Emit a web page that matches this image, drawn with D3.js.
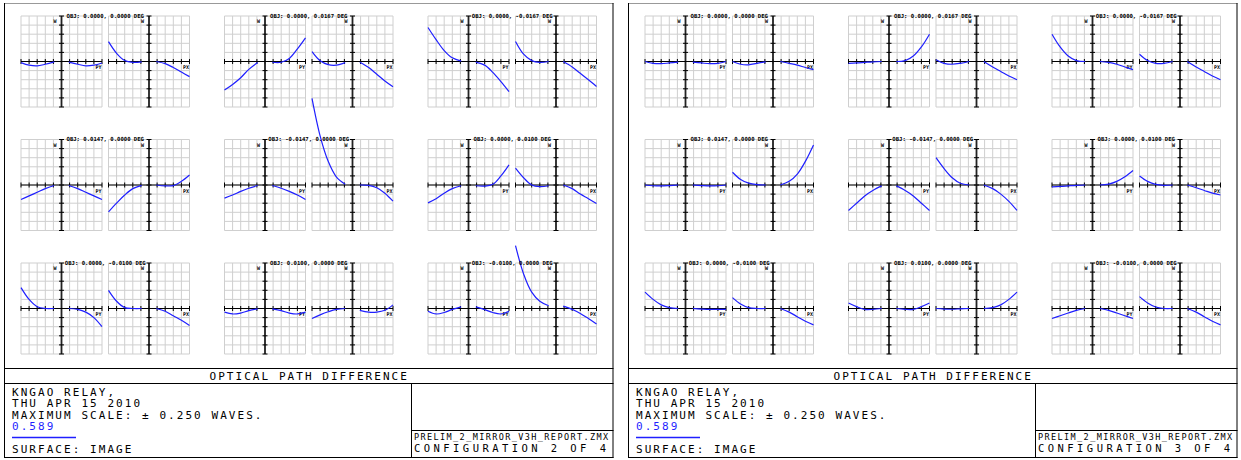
<!DOCTYPE html>
<html>
<head>
<meta charset="utf-8">
<script src="https://cdn.jsdelivr.net/npm/d3@7"></script>
<style>
  body { margin: 0; background: #fff; }
  svg { display: block; }
</style>
</head>
<body>
<script>
// configurations shown side by side
const configLabels = ["CONFIGURATION 2 OF 4", "CONFIGURATION 3 OF 4"];
const fieldLabels = [
    "OBJ: 0.0000, 0.0000 DEG", "OBJ: 0.0000, 0.0167 DEG", "OBJ: 0.0000, -0.0167 DEG",
    "OBJ: 0.0147, 0.0000 DEG", "OBJ: -0.0147, 0.0000 DEG", "OBJ: 0.0000, 0.0100 DEG",
    "OBJ: 0.0000, -0.0100 DEG", "OBJ: 0.0100, 0.0000 DEG", "OBJ: -0.0100, 0.0000 DEG"
];
const infoLines = ["KNGAO RELAY,", "THU APR 15 2010", "MAXIMUM SCALE: \u00b1 0.250 WAVES."];
const wavelength = "0.589";
const surfaceLabel = "SURFACE: IMAGE";
const fileName = "PRELIM_2_MIRROR_V3H_REPORT.ZMX";
const maxScale = 0.25;

// pupil samples (central obscuration leaves a gap around 0)
const pupilNeg = [-1, -0.8, -0.6, -0.4, -0.18];
const pupilPos = [0.18, 0.4, 0.6, 0.8, 1];

// OPD in waves, 5 values on the negative side then 5 on the positive side
const cfg2PY = [
    [-0.006, -0.02, -0.024, -0.015, -0.002, -0.003, -0.015, -0.024, -0.02, -0.008],
    [-0.157, -0.126, -0.089, -0.043, -0.005, -0.004, -0.004, 0.017, 0.069, 0.13],
    [0.187, 0.12, 0.06, 0.02, 0.002, -0.003, -0.02, -0.06, -0.11, -0.165],
    [-0.08, -0.06, -0.04, -0.02, -0.003, -0.003, -0.02, -0.04, -0.06, -0.08],
    [-0.072, -0.055, -0.035, -0.018, -0.003, -0.003, -0.018, -0.035, -0.055, -0.08],
    [-0.098, -0.075, -0.045, -0.02, -0.004, -0.004, -0.006, 0.004, 0.05, 0.111],
    [0.115, 0.05, 0.01, 0, 0, 0, -0.005, -0.02, -0.05, -0.1],
    [-0.02, -0.03, -0.025, -0.012, -0.002, -0.002, -0.012, -0.025, -0.03, -0.02],
    [-0.015, -0.03, -0.022, -0.005, 0.009, 0.009, -0.006, -0.022, -0.03, -0.015]
];
const cfg2PX = [
    [0.109, 0.045, 0.005, -0.005, -0.002, 0, -0.012, -0.033, -0.058, -0.083],
    [0.054, 0.004, -0.017, -0.02, -0.006, -0.004, -0.033, -0.07, -0.107, -0.139],
    [0.11, 0.04, 0.005, -0.005, 0, 0, -0.03, -0.065, -0.1, -0.137],
    [-0.148, -0.1, -0.055, -0.02, -0.002, 0, -0.005, -0.003, 0.02, 0.055],
    [0.476, 0.27, 0.13, 0.045, 0.004, 0, -0.002, -0.015, -0.045, -0.089],
    [0.093, 0.04, 0, -0.009, -0.004, 0, -0.02, -0.05, -0.075, -0.102],
    [0.1, 0.04, 0.005, 0, 0, 0, -0.015, -0.04, -0.065, -0.093],
    [-0.055, -0.035, -0.018, -0.005, 0, -0.01, -0.02, -0.02, -0.01, 0.02],
    [0.345, 0.19, 0.09, 0.04, 0.015, 0.013, -0.005, -0.027, -0.055, -0.085]
];
const cfg3PY = [
    [0, -0.01, -0.012, -0.008, -0.003, -0.003, -0.008, -0.012, -0.01, 0],
    [-0.01, -0.008, -0.005, -0.002, 0, 0, 0.005, 0.03, 0.08, 0.15],
    [0.15, 0.08, 0.03, 0.005, 0, 0, -0.005, -0.015, -0.03, -0.045],
    [0, -0.004, -0.005, -0.003, 0, 0, -0.003, -0.005, -0.004, 0],
    [-0.14, -0.1, -0.06, -0.03, -0.005, -0.005, -0.03, -0.06, -0.1, -0.14],
    [-0.01, -0.008, -0.005, -0.002, 0, 0, 0.005, 0.02, 0.045, 0.08],
    [0.09, 0.05, 0.02, 0.005, 0, 0, -0.003, -0.005, -0.005, -0.005],
    [0.03, 0.01, -0.005, -0.005, 0, 0, -0.005, -0.005, 0.01, 0.03],
    [-0.055, -0.04, -0.025, -0.01, 0, 0, -0.01, -0.025, -0.04, -0.055]
];
const cfg3PX = [
    [0, -0.015, -0.018, -0.01, -0.002, 0, -0.01, -0.02, -0.033, -0.045],
    [0.01, -0.01, -0.015, -0.01, 0, 0, -0.03, -0.055, -0.08, -0.1],
    [0.04, 0.005, -0.01, -0.01, 0, 0, -0.03, -0.055, -0.08, -0.1],
    [0.07, 0.03, 0.01, 0.002, 0, 0, 0.02, 0.06, 0.13, 0.22],
    [0.15, 0.09, 0.04, 0.01, 0, 0, -0.02, -0.05, -0.09, -0.14],
    [0.05, 0.02, 0.003, -0.002, 0, 0, -0.015, -0.03, -0.045, -0.055],
    [0.06, 0.025, 0.005, 0, 0, 0, -0.02, -0.045, -0.07, -0.09],
    [0, -0.003, -0.004, -0.002, 0, 0, 0.005, 0.02, 0.05, 0.09],
    [0.065, 0.03, 0.008, 0, 0, 0, -0.02, -0.045, -0.07, -0.09]
];
const fanPY = [cfg2PY, cfg3PY];
const fanPX = [cfg2PX, cfg3PX];

const W = 1241, H = 460;
const panelLeft = [4, 628];
const panelW = 609.5;
const plotW = 81, plotH = 91;
const colX = [17, 220.5, 424];
const rowY = [16, 139.5, 263];
const pairStep = 87.5;
const mono = "'DejaVu Sans Mono', 'Liberation Mono', monospace";
const blue = "#1f1fff";

const svg = d3.select("body").append("svg")
    .attr("width", W)
    .attr("height", H);

svg.append("rect").attr("width", W).attr("height", H).attr("fill", "#fff");

function drawFan(g, x0, y0, values, axisName) {
    const x = d3.scaleLinear().domain([-1, 1]).range([x0, x0 + plotW]);
    const y = d3.scaleLinear().domain([-maxScale, maxScale]).range([y0 + plotH, y0]);
    const xt = d3.range(-1, 1.0001, 0.2);
    const yt = d3.range(-maxScale, maxScale + 0.0001, 0.05);

    // grid
    g.selectAll(null).data(xt).enter().append("line")
        .attr("x1", d => x(d)).attr("x2", d => x(d))
        .attr("y1", y0).attr("y2", y0 + plotH)
        .attr("stroke", "#cfcfcf").attr("stroke-width", 1);
    g.selectAll(null).data(yt).enter().append("line")
        .attr("x1", x0).attr("x2", x0 + plotW)
        .attr("y1", d => y(d)).attr("y2", d => y(d))
        .attr("stroke", "#cfcfcf").attr("stroke-width", 1);

    // axes with ticks
    g.append("line")
        .attr("x1", x0).attr("x2", x0 + plotW)
        .attr("y1", y(0)).attr("y2", y(0))
        .attr("stroke", "#000").attr("stroke-width", 1);
    g.selectAll(null).data(xt).enter().append("line")
        .attr("x1", d => x(d)).attr("x2", d => x(d))
        .attr("y1", y(0) - 2.5).attr("y2", y(0) + 2.5)
        .attr("stroke", "#000").attr("stroke-width", 1);
    g.append("line")
        .attr("x1", x(0)).attr("x2", x(0))
        .attr("y1", y0).attr("y2", y0 + plotH)
        .attr("stroke", "#222").attr("stroke-width", 1.8);
    g.selectAll(null).data(yt).enter().append("line")
        .attr("x1", x(0) - 2.5).attr("x2", x(0) + 2.5)
        .attr("y1", d => y(d)).attr("y2", d => y(d))
        .attr("stroke", "#000").attr("stroke-width", 1);

    g.append("text")
        .attr("x", x(0) - 6.5).attr("y", y0 + 7)
        .attr("text-anchor", "middle")
        .attr("font-family", mono).attr("font-size", 5).attr("font-weight", "bold")
        .text("W");
    g.append("text")
        .attr("x", x0 + plotW - 0.5).attr("y", y(0) + 7.5)
        .attr("text-anchor", "end")
        .attr("font-family", mono).attr("font-size", 5).attr("font-weight", "bold")
        .text(axisName);

    const line = d3.line()
        .x(d => x(d[0]))
        .y(d => y(d[1]))
        .curve(d3.curveCatmullRom.alpha(0.5));
    const neg = pupilNeg.map((p, i) => [p, values[i]]);
    const pos = pupilPos.map((p, i) => [p, values[i + 5]]);
    [neg, pos].forEach(seg => {
        g.append("path")
            .attr("d", line(seg))
            .attr("fill", "none")
            .attr("stroke", blue)
            .attr("stroke-width", 1.2);
    });
}

panelLeft.forEach((px, p) => {
    const panel = svg.append("g");
    const right = px + panelW;

    fieldLabels.forEach((label, i) => {
        const r = Math.floor(i / 3), c = i % 3;
        const x0 = px + colX[c], y0 = rowY[r];
        const g = panel.append("g");
        drawFan(g, x0, y0, fanPY[p][i], "PY");
        drawFan(g, x0 + pairStep, y0, fanPX[p][i], "PX");
        g.append("text")
            .attr("x", x0 + (pairStep + plotW) / 2)
            .attr("y", y0 + 1.5)
            .attr("text-anchor", "middle")
            .attr("font-family", mono).attr("font-size", 5.6).attr("font-weight", "bold")
            .text(label);
    });

    // frame
    panel.append("line").attr("x1", px).attr("x2", right).attr("y1", 3.5).attr("y2", 3.5)
        .attr("stroke", "#999");
    panel.append("line").attr("x1", px + 0.5).attr("x2", px + 0.5).attr("y1", 3).attr("y2", 458)
        .attr("stroke", "#000");
    panel.append("line").attr("x1", right - 0.5).attr("x2", right - 0.5).attr("y1", 3).attr("y2", 458)
        .attr("stroke", "#000");
    [368.5, 383.5, 457.5].forEach(yy => {
        panel.append("line").attr("x1", px).attr("x2", right).attr("y1", yy).attr("y2", yy)
            .attr("stroke", "#000");
    });
    panel.append("line").attr("x1", px + 407.5).attr("x2", px + 407.5).attr("y1", 383.5).attr("y2", 458)
        .attr("stroke", "#000");
    panel.append("line").attr("x1", px + 407.5).attr("x2", right).attr("y1", 430.5).attr("y2", 430.5)
        .attr("stroke", "#000");

    const txt = (x, y, s, size, spacing, color) => panel.append("text")
        .attr("x", x).attr("y", y)
        .attr("font-family", mono).attr("font-size", size)
        .attr("letter-spacing", spacing)
        .attr("fill", color || "#000")
        .text(s);

    txt(px + 205.5, 379.5, "OPTICAL PATH DIFFERENCE", 11, 2.05);
    infoLines.forEach((s, k) => txt(px + 8, 396 + k * 11.3, s, 11, 2.05));
    txt(px + 8, 430, wavelength, 11, 2.05, blue);
    panel.append("line").attr("x1", px + 8).attr("x2", px + 72).attr("y1", 437.5).attr("y2", 437.5)
        .attr("stroke", blue).attr("stroke-width", 1.5);
    txt(px + 8, 453, surfaceLabel, 11, 2.05);
    txt(px + 410, 439.5, fileName, 8.5, 1.4);
    txt(px + 410, 452, configLabels[p], 10.5, 3.45);
});
</script>
</body>
</html>
